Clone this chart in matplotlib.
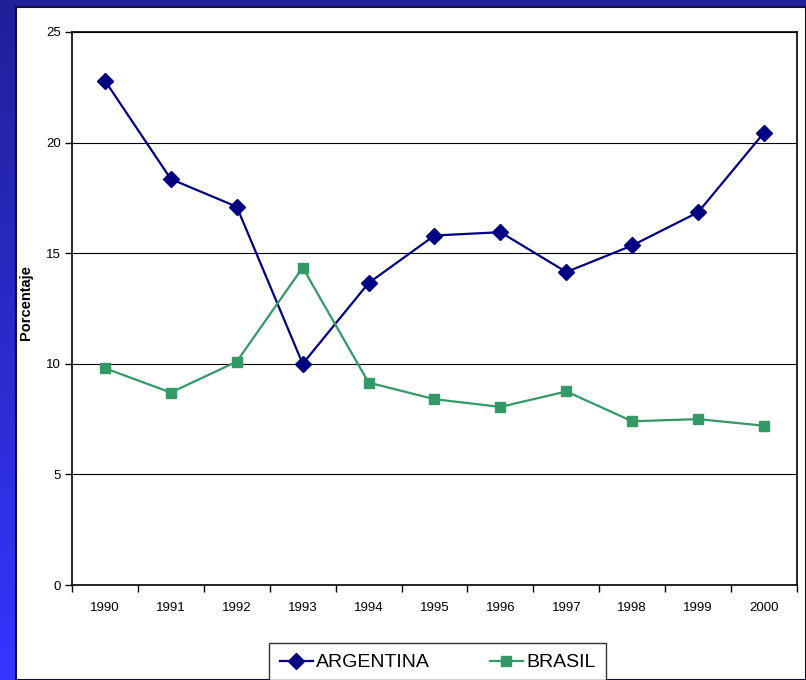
import numpy as np
import matplotlib.pyplot as plt
from matplotlib.patches import Rectangle

plt.rcParams['font.family'] = ['Liberation Sans', 'DejaVu Sans']

years = ['1990', '1991', '1992', '1993', '1994', '1995', '1996', '1997', '1998', '1999', '2000']
argentina = [22.8, 18.35, 17.1, 10.0, 13.65, 15.8, 15.95, 14.15, 15.35, 16.85, 20.45]
brasil = [9.8, 8.7, 10.1, 14.35, 9.15, 8.4, 8.05, 8.75, 7.4, 7.5, 7.2]

W, H = 806, 680
fig = plt.figure(figsize=(W / 100, H / 100), dpi=100)

# slide background: blue gradient, white panel on top
bg = fig.add_axes([0, 0, 1, 1])
grad = np.linspace(0, 1, 256).reshape(-1, 1)
top_c = np.array([0x20, 0x20, 0x9a]) / 255
bot_c = np.array([0x35, 0x35, 0xff]) / 255
img = top_c + (bot_c - top_c) * grad[:, :, None]
bg.imshow(img, aspect='auto', extent=[0, W, H, 0])
bg.add_patch(Rectangle((16, 7), W - 16, H - 7, facecolor='white', edgecolor='#101030', lw=1.5))
bg.set_xlim(0, W)
bg.set_ylim(H, 0)
bg.axis('off')

# plot area
x0, x1, y0, y1 = 72, 797, 32, 585
ax = fig.add_axes([x0 / W, 1 - y1 / H, (x1 - x0) / W, (y1 - y0) / H])
x = np.arange(len(years))
ax.plot(x, argentina, color='#000080', lw=1.6, marker='D', ms=8, label='ARGENTINA', zorder=3)
ax.plot(x, brasil, color='#339966', lw=1.6, marker='s', ms=7, label='BRASIL', zorder=3)

ax.set_xlim(-0.5, len(years) - 0.5)
ax.set_ylim(0, 25)
ax.set_yticks([0, 5, 10, 15, 20, 25])
ax.set_xticks(x)
ax.set_xticklabels(years)
ax.set_xticks(np.arange(-0.5, len(years)), minor=True)
ax.tick_params(axis='x', which='major', length=0, pad=12, labelsize=9.5)
ax.tick_params(axis='x', which='minor', length=5, width=1, direction='out')
ax.tick_params(axis='y', length=5, width=1, direction='out', labelsize=9.5, pad=3)
ax.grid(axis='y', color='black', lw=0.8)
for s in ax.spines.values():
    s.set_color('black')
    s.set_linewidth(1.2)
ax.set_ylabel('Porcentaje', fontsize=10.5, fontweight='bold', labelpad=-1)
ax.yaxis.set_label_coords(-(x0 - 33) / (x1 - x0), 0.51)

leg = fig.legend(loc='lower left', bbox_to_anchor=(269 / W, -2 / H, (606 - 269) / W, 40 / H),
                 mode='expand', ncol=2, fontsize=14, frameon=True, fancybox=False,
                 borderaxespad=0, handlelength=1.7, handletextpad=0.15, borderpad=0.55,
                 columnspacing=2)
leg.get_frame().set_edgecolor('black')
leg.get_frame().set_linewidth(1.0)

fig.savefig('out.png', dpi=100)
